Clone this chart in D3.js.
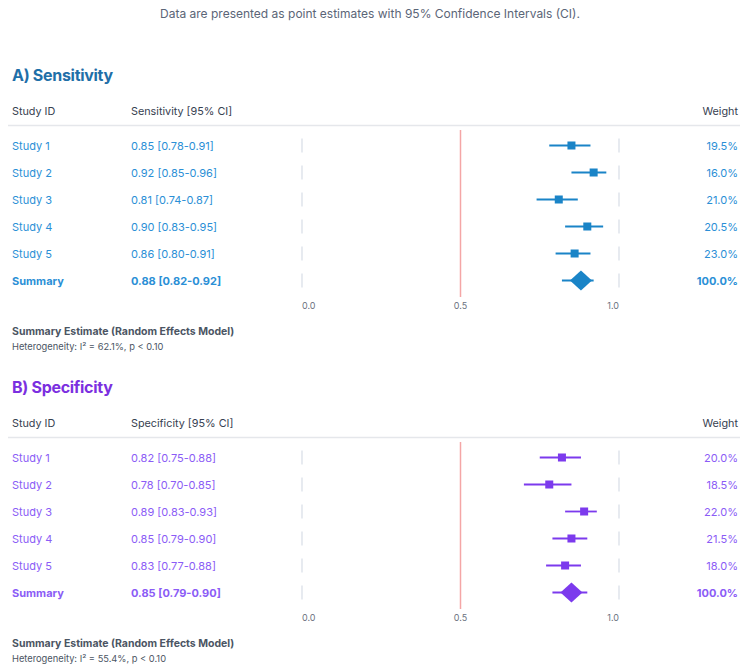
<!DOCTYPE html>
<html>
<head>
<meta charset="utf-8">
<script src="https://cdn.jsdelivr.net/npm/d3@7"></script>
<style>
  body { margin: 0; background: #fff; font-family: Inter, "Noto Sans", sans-serif; }
</style>
</head>
<body>
<svg id="chart" width="740" height="664"></svg>
<script>
// Study rows
const studies = ["Study 1", "Study 2", "Study 3", "Study 4", "Study 5"];

// Sensitivity estimates
const sensEst = [0.85, 0.92, 0.81, 0.90, 0.86];
const sensLow = [0.78, 0.85, 0.74, 0.83, 0.80];
const sensHigh = [0.91, 0.96, 0.87, 0.95, 0.91];
const sensWeight = [19.5, 16.0, 21.0, 20.5, 23.0];
const sensSummary = [0.88, 0.82, 0.92];

// Specificity estimates
const specEst = [0.82, 0.78, 0.89, 0.85, 0.83];
const specLow = [0.75, 0.70, 0.83, 0.79, 0.77];
const specHigh = [0.88, 0.85, 0.93, 0.90, 0.88];
const specWeight = [20.0, 18.5, 22.0, 21.5, 18.0];
const specSummary = [0.85, 0.79, 0.90];

const axisTicks = [0, 0.5, 1];

const svg = d3.select("#chart");

svg.append("text")
    .attr("x", 370).attr("y", 18)
    .attr("text-anchor", "middle")
    .attr("font-size", 12)
    .attr("fill", "#5b6577")
    .text("Data are presented as point estimates with 95% Confidence Intervals (CI).");

const x = d3.scaleLinear().domain([0, 1]).range([302, 619]);

function drawPanel(opts) {
    const g = svg.append("g").attr("transform", `translate(0,${opts.top})`);
    const rowY = d3.scaleBand()
        .domain(studies.concat(["Summary"]))
        .range([51, 51 + 6 * 27]);
    const cy = d => rowY(d) + rowY.bandwidth() / 2;

    // Title
    g.append("text")
        .attr("x", 12).attr("y", 0)
        .attr("font-size", 16).attr("font-weight", 700)
        .attr("letter-spacing", -0.3)
        .attr("fill", opts.titleColor)
        .text(opts.title);

    // Header
    const hdr = g.append("g").attr("font-size", 10.8).attr("fill", "#374151");
    hdr.append("text").attr("x", 12).attr("y", 34).text("Study ID");
    hdr.append("text").attr("x", 131).attr("y", 34).text(opts.label + " [95% CI]");
    hdr.append("text").attr("x", 738).attr("y", 34).attr("text-anchor", "end").text("Weight");
    g.append("line")
        .attr("x1", 8).attr("x2", 740).attr("y1", 44.5).attr("y2", 44.5)
        .attr("stroke", "#e5e7eb").attr("stroke-width", 1.5);

    // Reference line at 0.5
    g.append("line")
        .attr("x1", x(0.5)).attr("x2", x(0.5))
        .attr("y1", 49).attr("y2", 216)
        .attr("stroke", "#f4a6a6").attr("stroke-width", 1.5);

    const rows = studies.map((s, i) => ({
        id: s, est: opts.est[i], lo: opts.low[i], hi: opts.high[i], w: opts.weight[i], summary: false
    }));
    rows.push({ id: "Summary", est: opts.summary[0], lo: opts.summary[1], hi: opts.summary[2], w: 100, summary: true });

    const row = g.selectAll(".row").data(rows).enter().append("g").attr("class", "row");

    // Gray ticks at 0 and 1 for each row
    [0, 1].forEach(v => {
        row.append("line")
            .attr("x1", x(v)).attr("x2", x(v))
            .attr("y1", d => cy(d.id) - 7).attr("y2", d => cy(d.id) + 7)
            .attr("stroke", "#d7dde6").attr("stroke-width", 1.2);
    });

    row.append("text")
        .attr("x", 12).attr("y", d => cy(d.id) + 4)
        .attr("font-size", 11)
        .attr("font-weight", d => d.summary ? 700 : 400)
        .attr("fill", opts.textColor)
        .text(d => d.id);

    row.append("text")
        .attr("x", 131).attr("y", d => cy(d.id) + 4)
        .attr("font-size", 11)
        .attr("font-weight", d => d.summary ? 700 : 400)
        .attr("fill", opts.textColor)
        .text(d => `${d.est.toFixed(2)} [${d.lo.toFixed(2)}-${d.hi.toFixed(2)}]`);

    row.append("text")
        .attr("x", 738).attr("y", d => cy(d.id) + 4)
        .attr("text-anchor", "end")
        .attr("font-size", 11)
        .attr("font-weight", d => d.summary ? 700 : 400)
        .attr("fill", opts.textColor)
        .text(d => d.w.toFixed(1) + "%");

    // CI lines
    row.append("line")
        .attr("x1", d => x(d.lo)).attr("x2", d => x(d.hi))
        .attr("y1", d => cy(d.id)).attr("y2", d => cy(d.id))
        .attr("stroke", opts.markColor).attr("stroke-width", 1.8);

    // Point estimates
    row.filter(d => !d.summary).append("rect")
        .attr("x", d => x(d.est) - 4).attr("y", d => cy(d.id) - 4)
        .attr("width", 8).attr("height", 8)
        .attr("fill", opts.markColor);

    row.filter(d => d.summary).append("path")
        .attr("d", d => {
            const px = x(d.est), py = cy(d.id);
            return `M${px - 11},${py}L${px},${py - 10}L${px + 11},${py}L${px},${py + 10}Z`;
        })
        .attr("fill", opts.markColor);

    // Axis labels
    g.selectAll(".tick-label").data(axisTicks).enter().append("text")
        .attr("x", d => x(d)).attr("y", 228)
        .attr("text-anchor", d => d === 0 ? "start" : (d === 1 ? "end" : "middle"))
        .attr("font-size", 9)
        .attr("fill", "#6b7280")
        .text(d => d.toFixed(1));

    // Footer
    g.append("text")
        .attr("x", 12).attr("y", 254)
        .attr("font-size", 10.5).attr("font-weight", 700)
        .attr("fill", "#4b5563")
        .text("Summary Estimate (Random Effects Model)");
    g.append("text")
        .attr("x", 12).attr("y", 269)
        .attr("font-size", 9.3)
        .attr("fill", "#4b5563")
        .text(opts.hetero);
}

drawPanel({
    top: 81, title: "A) Sensitivity", label: "Sensitivity",
    est: sensEst, low: sensLow, high: sensHigh, weight: sensWeight, summary: sensSummary,
    titleColor: "#1f6fa8", textColor: "#2b8fd6", markColor: "#1a84c7",
    hetero: "Heterogeneity: I\u00b2 = 62.1%, p < 0.10"
});

drawPanel({
    top: 393, title: "B) Specificity", label: "Specificity",
    est: specEst, low: specLow, high: specHigh, weight: specWeight, summary: specSummary,
    titleColor: "#7b2fe0", textColor: "#8b5cf6", markColor: "#7c3aed",
    hetero: "Heterogeneity: I\u00b2 = 55.4%, p < 0.10"
});
</script>
</body>
</html>
